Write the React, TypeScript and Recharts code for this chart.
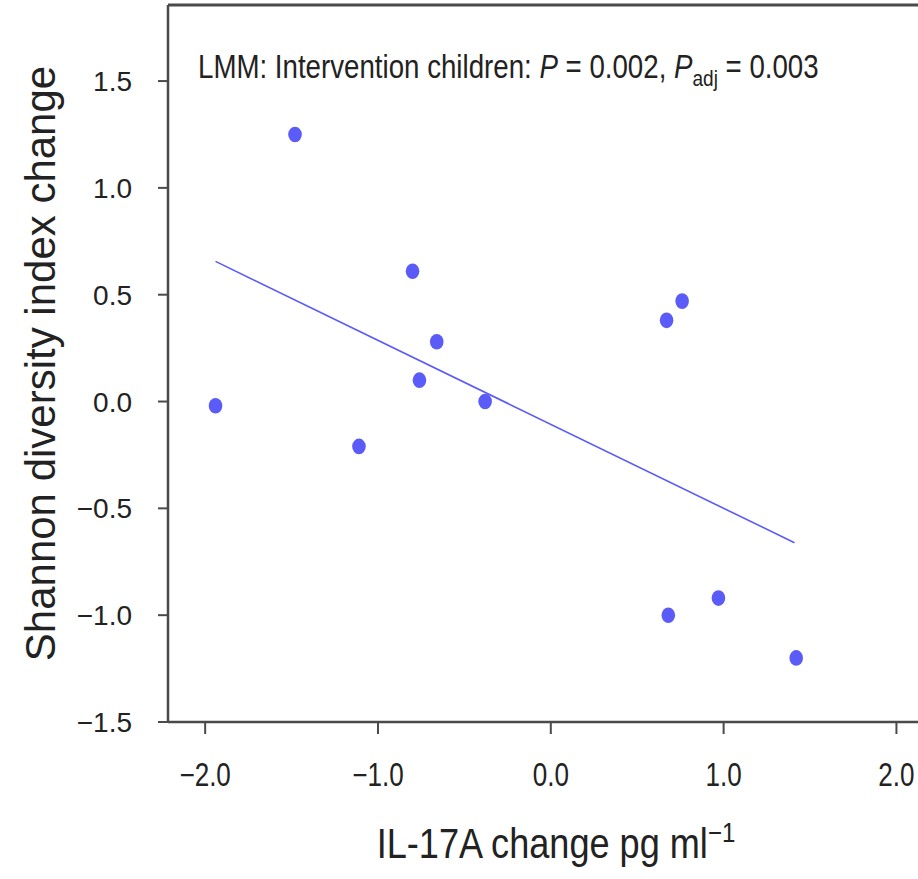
import React from 'react';
import { ScatterChart, Scatter, XAxis, YAxis, ReferenceLine } from 'recharts';

const xValues = [-1.94, -1.48, -1.11, -0.80, -0.66, -0.76, -0.38, 0.67, 0.76, 0.68, 0.97, 1.42];
const yValues = [-0.02, 1.25, -0.21, 0.61, 0.28, 0.10, 0.00, 0.38, 0.47, -1.00, -0.92, -1.20];
const fitX = [-1.94, 1.41];
const fitY = [0.656, -0.661];
const xTicks = [-2, -1, 0, 1, 2];
const yTicks = [-1.5, -1.0, -0.5, 0.0, 0.5, 1.0, 1.5];

const points = xValues.map((x, i) => ({ x, y: yValues[i] }));
const fitLine = fitX.map((x, i) => ({ x, y: fitY[i] }));

const SANS = '"Liberation Sans", Arial, sans-serif';
const AXIS = '#4a4a4a';
const BLUE = '#5b5bf7';

const fmt = (v: number) => v.toFixed(1).replace('-', '\u2212');

const XTick = (props: any) => {
  const { x, y, payload } = props;
  return (
    <text transform={`translate(${x}, ${y + 50}) scale(0.84, 1.05)`} x={0} y={0} textAnchor="middle" fontFamily={SANS} fontSize={31} fill="#222">
      {fmt(payload.value)}
    </text>
  );
};

const YTick = (props: any) => {
  const { x, y, payload } = props;
  return (
    <text x={x} y={y + 10} textAnchor="end" fontFamily={SANS} fontSize={28} fill="#222">
      {fmt(payload.value)}
    </text>
  );
};

const Annotation = (props: any) => {
  const vb = props.viewBox || {};
  const by = (vb.y ?? 5) + 73;
  return (
    <text transform={`translate(198, ${by}) scale(0.865, 1.03)`} x={0} y={0} fontFamily={SANS} fontSize={32} fill="#222">
      <tspan>LMM: Intervention children: </tspan>
      <tspan fontStyle="italic">P</tspan>
      <tspan> = 0.002, </tspan>
      <tspan fontStyle="italic">P</tspan>
      <tspan fontSize={22} dy={8}>adj</tspan>
      <tspan dy={-8}> = 0.003</tspan>
    </text>
  );
};

const YLabel = (props: any) => {
  const vb = props.viewBox || {};
  const cy = (vb.y ?? 5) + (vb.height ?? 717) / 2;
  return (
    <text x={55} y={cy} transform={`rotate(-90, 55, ${cy})`} textAnchor="middle" fontFamily={SANS} fontSize={42} fill="#222">
      Shannon diversity index change
    </text>
  );
};

const XLabel = () => (
  <text transform="translate(556, 858) scale(0.86, 1)" x={0} y={0} textAnchor="middle" fontFamily={SANS} fontSize={42} fill="#222">
    <tspan>IL-17A change pg ml</tspan>
    <tspan fontSize={28} dy={-16}>{'\u22121'}</tspan>
  </text>
);

export default function App() {
  return (
    <div style={{ position: 'absolute', left: 0, top: 0, width: 918, height: 879, overflow: 'hidden', background: '#fff' }}>
      <ScatterChart width={931} height={879} margin={{ top: 5, right: 0, bottom: 0, left: 0 }}>
        <XAxis
          type="number"
          dataKey="x"
          domain={[-2.215, 2.2]}
          ticks={xTicks}
          allowDataOverflow
          height={157}
          tickSize={12}
          tick={<XTick />}
          axisLine={{ stroke: AXIS, strokeWidth: 2.5 }}
          tickLine={{ stroke: AXIS, strokeWidth: 2 }}
          label={<XLabel />}
        />
        <YAxis
          type="number"
          dataKey="y"
          domain={[-1.5, 1.856]}
          ticks={yTicks}
          allowDataOverflow
          width={168}
          tickSize={10}
          tick={<YTick />}
          tickMargin={26}
          axisLine={{ stroke: AXIS, strokeWidth: 2.5 }}
          tickLine={{ stroke: AXIS, strokeWidth: 2 }}
          label={<YLabel />}
        />
        <ReferenceLine y={1.856} stroke={AXIS} strokeWidth={3} label={<Annotation />} ifOverflow="visible" />
        <Scatter data={fitLine} line={{ stroke: BLUE, strokeWidth: 1.6 }} shape={() => null} isAnimationActive={false} />
        <Scatter data={points} fill={BLUE} shape={(p: any) => <ellipse cx={p.cx} cy={p.cy} rx={6.8} ry={7.8} fill={BLUE} />} isAnimationActive={false} />
      </ScatterChart>
    </div>
  );
}
